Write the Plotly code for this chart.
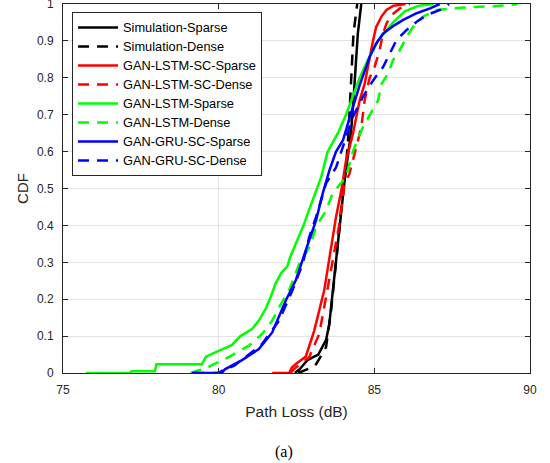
import plotly.graph_objects as go

# ---- data (Path Loss in dB vs CDF) ----
sim_sparse_x = [82.45, 82.6, 82.75, 82.85, 83.2, 83.45, 83.55, 83.66, 83.8, 83.92, 84.03, 84.12, 84.25, 84.33, 84.40, 84.47, 84.58]
sim_sparse_y = [0, 0.01, 0.025, 0.035, 0.05, 0.09, 0.13, 0.22, 0.32, 0.42, 0.51, 0.57, 0.65, 0.74, 0.83, 0.92, 1.0]

sim_dense_x = [82.55, 82.7, 83.0, 83.13, 83.45, 83.61, 83.72, 83.82, 83.93, 84.02, 84.1, 84.17, 84.23, 84.28, 84.33, 84.45]
sim_dense_y = [0, 0.005, 0.015, 0.024, 0.07, 0.17, 0.25, 0.34, 0.44, 0.505, 0.57, 0.65, 0.74, 0.83, 0.92, 1.0]

lstm_sc_sparse_x = [81.72, 82.26, 82.35, 82.5, 82.8, 83.07, 83.39, 83.56, 83.77, 83.95, 84.09, 84.31, 84.53, 84.69, 84.85, 84.96, 85.06, 85.23, 85.39, 85.60, 86.0]
lstm_sc_sparse_y = [0, 0, 0.015, 0.026, 0.045, 0.115, 0.224, 0.314, 0.423, 0.5, 0.575, 0.648, 0.739, 0.784, 0.857, 0.902, 0.938, 0.966, 0.984, 0.995, 1.0]

lstm_sc_dense_x = [82.3, 82.48, 82.91, 83.23, 83.45, 83.66, 83.88, 84.04, 84.20, 84.42, 84.58, 84.69, 84.85, 85.01, 85.17, 85.28, 85.39, 85.55, 85.82, 86.14]
lstm_sc_dense_y = [0, 0.015, 0.043, 0.106, 0.206, 0.305, 0.405, 0.513, 0.54, 0.612, 0.666, 0.739, 0.80, 0.83, 0.875, 0.92, 0.947, 0.97, 0.988, 1.0]

lstm_sparse_x = [75.74, 77.14, 77.2, 77.95, 78.0, 79.46, 79.6, 80.0, 80.43, 80.70, 81.08, 81.29, 81.51, 81.67, 81.83, 82.0, 82.21, 82.3, 82.45, 82.59, 82.75, 82.86, 83.02, 83.18, 83.29, 83.50, 83.83, 84.09, 84.31, 84.53, 84.80, 85.12, 85.60, 85.98, 86.4, 86.9]
lstm_sparse_y = [0, 0, 0.005, 0.005, 0.024, 0.024, 0.045, 0.06, 0.076, 0.1, 0.12, 0.142, 0.174, 0.206, 0.243, 0.27, 0.29, 0.315, 0.345, 0.369, 0.405, 0.432, 0.468, 0.5, 0.53, 0.60, 0.65, 0.70, 0.75, 0.80, 0.85, 0.90, 0.95, 0.98, 0.995, 1.0]

lstm_dense_x = [79.1, 79.3, 79.6, 79.75, 80.0, 80.32, 80.97, 81.40, 81.72, 81.94, 82.26, 82.59, 82.91, 83.13, 83.45, 83.66, 84.09, 84.31, 84.63, 84.90, 85.12, 85.23, 85.44, 85.60, 85.82, 86.03, 86.25, 86.57, 87.0, 87.76, 88.84, 89.0, 89.4, 89.6]
lstm_dense_y = [0, 0.006, 0.012, 0.02, 0.03, 0.043, 0.074, 0.106, 0.142, 0.178, 0.224, 0.296, 0.341, 0.396, 0.441, 0.486, 0.532, 0.60, 0.666, 0.707, 0.739, 0.784, 0.811, 0.848, 0.875, 0.911, 0.938, 0.966, 0.984, 0.99, 0.993, 0.995, 0.998, 1.0]

gru_sc_sparse_x = [79.14, 80.1, 80.2, 80.75, 81.29, 81.72, 82.16, 82.48, 82.80, 83.13, 83.34, 83.56, 83.77, 83.99, 84.2, 84.53, 84.85, 85.06, 85.28, 85.6, 85.93, 86.36, 86.79, 87.1]
gru_sc_sparse_y = [0, 0, 0.01, 0.035, 0.065, 0.11, 0.197, 0.252, 0.333, 0.414, 0.486, 0.55, 0.60, 0.63, 0.69, 0.78, 0.857, 0.893, 0.92, 0.94, 0.957, 0.975, 0.988, 1.0]

gru_sc_dense_x = [79.2, 80.0, 80.1, 80.5, 80.86, 81.4, 81.94, 82.37, 82.7, 82.91, 83.13, 83.45, 83.77, 83.99, 84.31, 84.63, 84.96, 85.28, 85.50, 85.71, 86.03, 86.36, 86.68, 87.11, 87.4]
gru_sc_dense_y = [0, 0, 0.006, 0.02, 0.043, 0.079, 0.142, 0.224, 0.296, 0.369, 0.423, 0.514, 0.557, 0.612, 0.694, 0.748, 0.793, 0.829, 0.866, 0.902, 0.929, 0.952, 0.97, 0.984, 1.0]

series_names = ["Simulation-Sparse", "Simulation-Dense", "GAN-LSTM-SC-Sparse", "GAN-LSTM-SC-Dense",
                "GAN-LSTM-Sparse", "GAN-LSTM-Dense", "GAN-GRU-SC-Sparse", "GAN-GRU-SC-Dense"]
series_x = [sim_sparse_x, sim_dense_x, lstm_sc_sparse_x, lstm_sc_dense_x,
            lstm_sparse_x, lstm_dense_x, gru_sc_sparse_x, gru_sc_dense_x]
series_y = [sim_sparse_y, sim_dense_y, lstm_sc_sparse_y, lstm_sc_dense_y,
            lstm_sparse_y, lstm_dense_y, gru_sc_sparse_y, gru_sc_dense_y]
series_colors = ["#000000", "#000000", "#ff0000", "#ff0000", "#00ff00", "#00ff00", "#0000ff", "#0000ff"]
series_dash = ["solid", "11px,8px", "solid", "11px,8px", "solid", "11px,8px", "solid", "11px,8px"]

x_ticks = [75, 80, 85, 90]
y_ticks = [0, 0.1, 0.2, 0.3, 0.4, 0.5, 0.6, 0.7, 0.8, 0.9, 1]
y_tick_text = ["0", "0.1", "0.2", "0.3", "0.4", "0.5", "0.6", "0.7", "0.8", "0.9", "1"]

fig = go.Figure()
for name, xs, ys, c, d in zip(series_names, series_x, series_y, series_colors, series_dash):
    fig.add_trace(go.Scatter(x=xs, y=ys, mode="lines",
                             name="<span style='font-size:12.8px'>" + name + "</span>",
                             line=dict(color=c, width=2.5, dash=d)))

axis_common = dict(showline=True, mirror="ticks", linecolor="#262626", linewidth=1,
                   ticks="inside", ticklen=5, tickcolor="#262626",
                   showgrid=True, gridcolor="#e3e3e3", gridwidth=1, zeroline=False,
                   automargin=False, ticklabeloverflow="allow",
                   tickfont=dict(family="Liberation Sans, Arial", size=12, color="#262626"))

fig.update_layout(
    width=550, height=463,
    margin=dict(l=63, r=20, t=4, b=90),
    paper_bgcolor="white", plot_bgcolor="white",
    font=dict(family="Liberation Sans, Arial", color="#262626"),
    xaxis=dict(range=[75, 90], tickvals=x_ticks, ticklabelstandoff=6,
               title=dict(text="Path Loss (dB)", font=dict(size=15.5, color="#262626"), standoff=9),
               **axis_common),
    yaxis=dict(range=[0, 1], tickvals=y_ticks, ticktext=y_tick_text, ticklabelstandoff=6,
               title=dict(text="CDF", font=dict(size=15, color="#262626"), standoff=4),
               **axis_common),
    legend=dict(x=0.0193, y=0.978, xanchor="left", yanchor="top",
                bgcolor="white", bordercolor="#262626", borderwidth=1,
                font=dict(family="Liberation Sans, Arial", size=12, color="#000000"),
                tracegroupgap=0, itemwidth=40),
    showlegend=True,
)

fig.add_annotation(text="(a)", xref="paper", yref="paper", x=0.4726, y=-0.215,
                   xanchor="center", yanchor="middle", showarrow=False,
                   font=dict(family="Liberation Serif, Times New Roman", size=16, color="#000000"))

fig.write_html("out.html", config={"displayModeBar": False},
               post_script="document.body.style.margin='0';document.body.style.overflow='hidden';")
